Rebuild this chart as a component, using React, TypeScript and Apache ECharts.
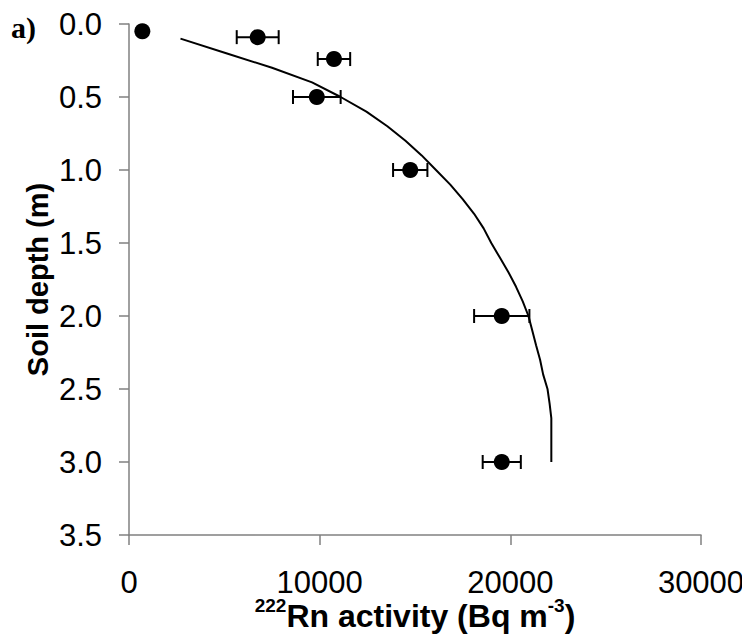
import React, { useEffect, useRef } from "react";
import * as echarts from "echarts";

// Measured points: activity (Bq m-3), depth (m), error (±)
const pointActivity = [700, 6750, 10750, 9850, 14750, 19550, 19550];
const pointDepth = [0.05, 0.09, 0.24, 0.5, 1.0, 2.0, 3.0];
const pointError = [100, 1100, 850, 1250, 900, 1450, 1000];

// Model curve
const curveDepth = [0.1, 0.2, 0.3, 0.4, 0.5, 0.6, 0.7, 0.8, 0.9, 1.0, 1.1, 1.2, 1.3, 1.4, 1.5, 1.6, 1.7, 1.8, 1.9, 2.0, 2.1, 2.2, 2.3, 2.4, 2.5, 2.6, 2.7, 2.8, 2.9, 3.0];
const curveActivity = [2700, 5100, 7500, 9600, 11100, 12450, 13550, 14500, 15350, 16100, 16850, 17500, 18100, 18600, 19000, 19450, 19900, 20300, 20650, 20950, 21150, 21350, 21560, 21720, 21950, 22060, 22150, 22150, 22150, 22150];

const xTicks = [0, 10000, 20000, 30000];
const yTicks = [0, 0.5, 1.0, 1.5, 2.0, 2.5, 3.0, 3.5];

const FONT = "'Liberation Sans', Arial, sans-serif";
const AXIS_GRAY = "#808080";

export default function App() {
  const ref = useRef<HTMLDivElement>(null);
  useEffect(() => {
    if (!ref.current) return;
    const chart = echarts.init(ref.current, null, { renderer: "svg" });
    const scatterData = pointActivity.map((v, i) => [v, pointDepth[i]]);
    const errData = pointActivity.map((v, i) => [v, pointDepth[i], v - pointError[i], v + pointError[i]]);
    const lineData = curveActivity.map((v, i) => [v, curveDepth[i]]);
    chart.setOption({
      animation: false,
      backgroundColor: "#ffffff",
      textStyle: { fontFamily: FONT },
      grid: { left: 129, right: 49, top: 24, bottom: 109, containLabel: false },
      xAxis: {
        type: "value",
        min: xTicks[0],
        max: xTicks[xTicks.length - 1],
        interval: 10000,
        position: "bottom",
        splitLine: { show: false },
        axisLine: { show: true, onZero: false, lineStyle: { color: AXIS_GRAY, width: 1.5 } },
        axisTick: { show: true, inside: false, length: 10, lineStyle: { color: AXIS_GRAY, width: 1.5 } },
        axisLabel: { fontSize: 31, color: "#000", fontFamily: FONT, margin: 32, formatter: (v: number) => String(v) },
        name: "{sup|222}{main|Rn activity (Bq m}{sup|-3}{main|)}",
        nameLocation: "middle",
        nameGap: 61,
        nameMoveOverlap: false,
        nameTextStyle: {
          verticalAlign: "top",
          rich: {
            main: { fontSize: 32, fontWeight: "bold", color: "#000", fontFamily: FONT, lineHeight: 40 },
            sup: { fontSize: 19, fontWeight: "bold", color: "#000", fontFamily: FONT, lineHeight: 20, verticalAlign: "top" },
          },
        },
      },
      yAxis: {
        type: "value",
        inverse: true,
        min: yTicks[0],
        max: yTicks[yTicks.length - 1],
        interval: 0.5,
        splitLine: { show: false },
        axisLine: { show: true, onZero: false, lineStyle: { color: AXIS_GRAY, width: 1.5 } },
        axisTick: { show: true, inside: false, length: 10, lineStyle: { color: AXIS_GRAY, width: 1.5 } },
        axisLabel: {
          fontSize: 31,
          color: "#000",
          fontFamily: FONT,
          margin: 27,
          formatter: (v: number) => v.toFixed(1),
        },
        name: "Soil depth (m)",
        nameLocation: "middle",
        nameGap: 77,
        nameMoveOverlap: false,
        nameTextStyle: { fontSize: 29, fontWeight: "bold", color: "#000", fontFamily: FONT },
      },
      graphic: [
        {
          type: "text",
          left: 11,
          top: 12,
          style: { text: "a)", font: "bold 30px 'Liberation Serif', 'Times New Roman', serif", fill: "#000" },
        },
      ],
      series: [
        {
          type: "line",
          data: lineData,
          showSymbol: false,
          symbol: "none",
          smooth: false,
          lineStyle: { color: "#000", width: 2 },
          z: 2,
        },
        {
          type: "custom",
          data: errData,
          z: 3,
          renderItem: (params: any, api: any) => {
            const y = api.value(1);
            const lo = api.coord([api.value(2), y]);
            const hi = api.coord([api.value(3), y]);
            const h = 7;
            const style = { stroke: "#000", lineWidth: 2 };
            return {
              type: "group",
              children: [
                { type: "line", shape: { x1: lo[0], y1: lo[1], x2: hi[0], y2: hi[1] }, style },
                { type: "line", shape: { x1: lo[0], y1: lo[1] - h, x2: lo[0], y2: lo[1] + h }, style },
                { type: "line", shape: { x1: hi[0], y1: hi[1] - h, x2: hi[0], y2: hi[1] + h }, style },
              ],
            };
          },
        },
        {
          type: "scatter",
          data: scatterData,
          symbol: "circle",
          symbolSize: 16,
          itemStyle: { color: "#000", opacity: 1 },
          z: 4,
        },
      ],
    });
    return () => chart.dispose();
  }, []);
  return <div ref={ref} style={{ width: 750, height: 644, margin: -8 }} />;
}
